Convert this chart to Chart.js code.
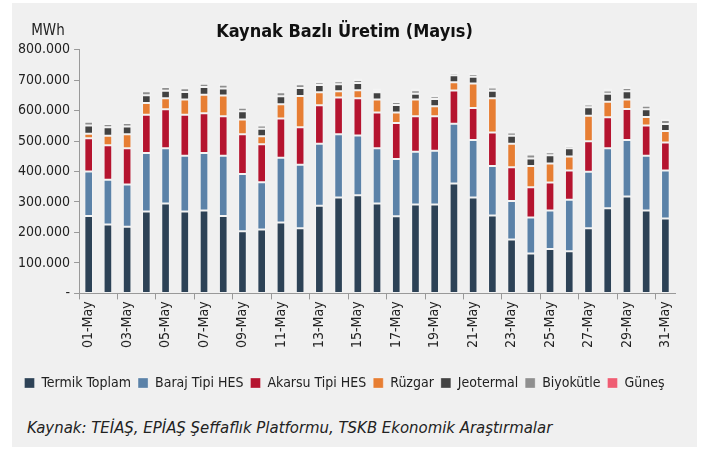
<!DOCTYPE html>
<html>
<head>
<meta charset="utf-8">
<script src="https://cdn.jsdelivr.net/npm/chart.js@4.4.0/dist/chart.umd.min.js"></script>
<style>
  html, body { margin: 0; padding: 0; background: #fff; }
  #frame {
    position: absolute; left: 12px; top: 3px; width: 685px; height: 444px;
    background: #f0f0f0;
  }
  #wrap { position: absolute; left: -12px; top: -3px; width: 706px; height: 400px; }
  #source {
    position: absolute; left: 15px; top: 415px;
    font-family: "Liberation Sans Narrow", "DejaVu Sans Condensed", sans-serif;
    font-style: italic; font-size: 16.6px; color: #222;
  }
</style>
</head>
<body>
<div id="frame">
  <div id="wrap"><canvas id="chart" width="706" height="400"></canvas></div>
  <div id="source">Kaynak: TEİAŞ, EPİAŞ Şeffaflık Platformu, TSKB Ekonomik Araştırmalar</div>
</div>
<script>
// days of May
const days = ['01-May','02-May','03-May','04-May','05-May','06-May','07-May','08-May','09-May','10-May',
  '11-May','12-May','13-May','14-May','15-May','16-May','17-May','18-May','19-May','20-May',
  '21-May','22-May','23-May','24-May','25-May','26-May','27-May','28-May','29-May','30-May','31-May'];

// MWh
const termik = [254000,226000,219000,269000,295000,269000,272000,254000,204000,210000,
  233000,214000,288000,315000,322000,295000,253000,292000,292000,361000,
  315000,256000,177000,131000,146000,138000,214000,279000,318000,272000,246000];
const baraj = [146000,147000,138000,192000,181000,183000,189000,198000,188000,155000,
  212000,208000,203000,207000,196000,181000,188000,173000,176000,196000,
  188000,162000,126000,118000,126000,169000,185000,197000,185000,180000,157000];
const akarsu = [109000,113000,119000,125000,128000,134000,130000,129000,130000,124000,
  129000,123000,126000,121000,122000,118000,118000,116000,113000,109000,
  105000,110000,111000,99000,92000,96000,100000,102000,102000,99000,92000];
const ruzgar = [15000,31000,46000,39000,36000,50000,61000,68000,49000,27000,
  47000,103000,43000,20000,27000,42000,35000,55000,33000,27000,
  81000,112000,77000,70000,62000,46000,84000,51000,31000,28000,38000];
const jeotermal = [27000,28000,26000,25000,25000,25000,25000,23000,27000,24000,
  26000,26000,24000,23000,23000,24000,24000,19000,24000,23000,
  22000,25000,26000,25000,27000,27000,28000,26000,27000,25000,23000];
const biyokutle = [12000,11000,11000,13000,12000,12000,11000,13000,11000,11000,
  13000,12000,9000,10000,10000,7000,10000,12000,9000,7000,
  9000,11000,11000,13000,10000,8000,9000,11000,11000,12000,13000];
const gunes = [4000,4000,4000,4000,5000,5000,6000,4000,4000,6000,
  4000,4000,5000,4000,5000,5000,4000,5000,5000,5000,
  4000,6000,5000,5000,5000,4000,5000,6000,5000,5000,3000];

const FONT = '"Liberation Sans Narrow", "DejaVu Sans Condensed", sans-serif';

function ds(label, data, color) {
  return { label: label, data: data, backgroundColor: color,
    borderColor: 'rgba(255,255,255,0.3)', borderWidth: 1, borderSkipped: false,
    barPercentage: 0.45, categoryPercentage: 1.0 };
}

// "MWh" label above the y axis
const unitLabel = {
  id: 'unitLabel',
  afterDraw(chart) {
    const c = chart.ctx;
    c.save();
    c.font = '15px ' + FONT;
    c.fillStyle = '#222';
    c.textAlign = 'center';
    c.textBaseline = 'middle';
    c.fillText('MWh', 48, 31);
    c.restore();
  }
};

const ctx = document.getElementById('chart').getContext('2d');
new Chart(ctx, {
  type: 'bar',
  data: {
    labels: days,
    datasets: [
      ds('Termik Toplam', termik, '#2d4256'),
      ds('Baraj Tipi HES', baraj, '#5b82a8'),
      ds('Akarsu Tipi HES', akarsu, '#b5142f'),
      ds('Rüzgar', ruzgar, '#e77e33'),
      ds('Jeotermal', jeotermal, '#424242'),
      ds('Biyokütle', biyokutle, '#8f8f8f'),
      ds('Güneş', gunes, '#ef5d73')
    ]
  },
  options: {
    responsive: false,
    animation: false,
    layout: { padding: { left: 14, right: 31, top: 8, bottom: 0 } },
    plugins: {
      title: {
        display: true,
        text: 'Kaynak Bazlı Üretim (Mayıs)',
        color: '#111',
        font: { family: FONT, size: 18, weight: 'bold' },
        padding: { top: 14, bottom: 6 }
      },
      legend: {
        position: 'bottom',
        labels: {
          color: '#222',
          font: { family: FONT, size: 14 },
          boxWidth: 10, boxHeight: 10, padding: 7
        }
      },
      tooltip: { enabled: false }
    },
    scales: {
      x: {
        stacked: true,
        offset: true,
        afterFit: function(s) { s.height += 19; },
        border: { display: true, color: '#999', width: 1 },
        grid: {
          offset: true,
          drawOnChartArea: false,
          drawTicks: true,
          tickLength: 6,
          tickColor: function(c) { return c.index % 2 === 0 ? '#999' : 'rgba(0,0,0,0)'; }
        },
        ticks: {
          autoSkip: false,
          minRotation: 90,
          maxRotation: 90,
          color: '#222',
          font: { family: FONT, size: 14 },
          padding: 2,
          callback: function(v, i) { return i % 2 === 0 ? days[i] : ''; }
        }
      },
      y: {
        stacked: true,
        min: 0,
        max: 800000,
        border: { display: true, color: '#999', width: 1 },
        grid: { drawOnChartArea: false, drawTicks: true, tickLength: 5, tickColor: '#999' },
        ticks: {
          stepSize: 100000,
          color: '#222',
          font: { family: FONT, size: 14 },
          padding: 4,
          callback: function(v) {
            if (v === 0) return '-';
            return v.toLocaleString('de-DE');
          }
        }
      }
    }
  },
  plugins: [unitLabel]
});
</script>
</body>
</html>
